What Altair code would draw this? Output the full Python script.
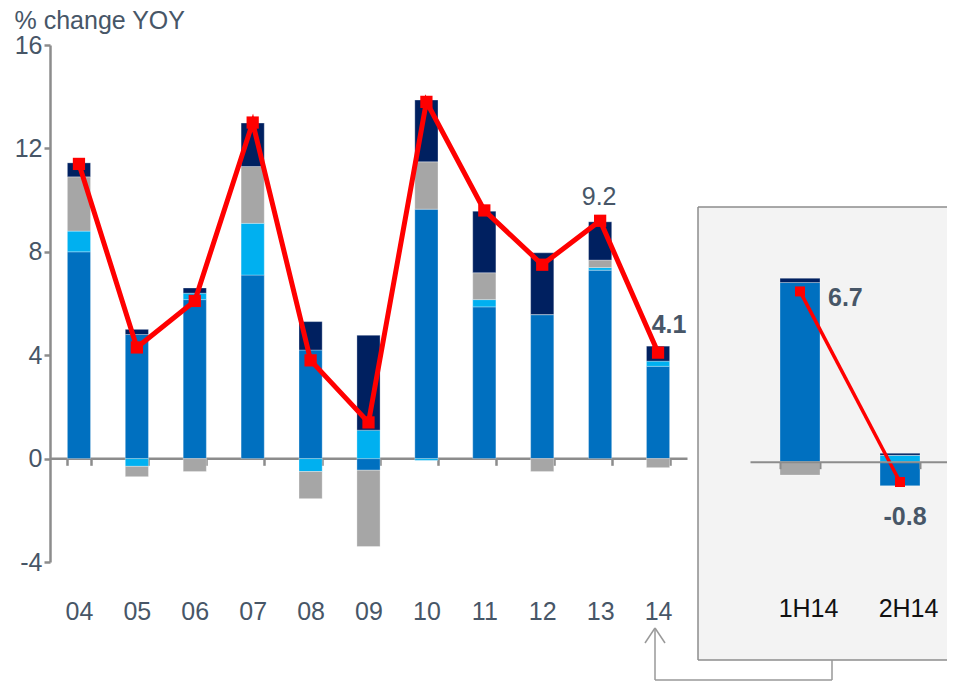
import altair as alt
import pandas as pd

# ---------------- data ----------------
years = ["04", "05", "06", "07", "08", "09", "10", "11", "12", "13", "14"]
core_blue = [8.0, 4.8, 6.15, 7.1, 4.2, -0.45, 9.65, 5.87, 5.57, 7.29, 3.57]
light_blue = [0.8, -0.3, 0.25, 2.0, -0.5, 1.1, -0.07, 0.28, 0.0, 0.1, 0.2]
grey = [2.1, -0.4, -0.5, 2.2, -1.05, -2.95, 1.83, 1.04, -0.5, 0.29, -0.35]
navy = [0.54, 0.2, 0.2, 1.68, 1.1, 3.67, 2.39, 2.38, 2.39, 1.48, 0.58]
total = [11.4, 4.3, 6.1, 13.0, 3.8, 1.4, 13.8, 9.6, 7.5, 9.2, 4.1]

halves = ["1H14", "2H14"]
h_core_blue = [7.05, -0.95]
h_light_blue = [-0.03, 0.25]
h_grey = [-0.5, 0.0]
h_navy = [0.17, 0.08]
h_total = [6.7, -0.8]

y_ticks = [-4, 0, 4, 8, 12, 16]

comp_names = ["core", "light", "grey", "navy"]
comp_colors = ["#0070C0", "#00B0F0", "#A6A6A6", "#002060"]

FONT = "Liberation Sans"
TXT = "#475667"
AX = "#8C8C8C"
RED = "#FF0000"


def long_df(cats, key, series):
    rows = []
    for i, c in enumerate(cats):
        for k, (name, vals) in enumerate(zip(comp_names, series)):
            rows.append({key: c, "comp": name, "ord": k, "v": vals[i]})
    return pd.DataFrame(rows)


main_bars_df = long_df(years, "year", [core_blue, light_blue, grey, navy])
main_line_df = pd.DataFrame({"year": years, "v": total})
main_line_df["lab"] = main_line_df["v"].map(lambda t: f"{t:.1f}")

panel_bars_df = long_df(halves, "half", [h_core_blue, h_light_blue, h_grey, h_navy])
panel_line_df = pd.DataFrame({"half": halves, "v": h_total})
panel_line_df["lab"] = panel_line_df["v"].map(lambda t: f"{t:.1f}")

color_enc = alt.Color("comp:N", scale=alt.Scale(domain=comp_names, range=comp_colors), legend=None)

# ---------------- main chart ----------------
x_main = alt.X(
    "year:N",
    scale=alt.Scale(domain=years, range=[0, 637], paddingInner=0.6, paddingOuter=0.3),
    axis=alt.Axis(orient="bottom", offset=-103.7, title=None, labelAngle=0, tickBand="extent",
                  domainColor=AX, domainWidth=2.5, tickColor=AX, tickWidth=2.5, tickSize=7,
                  labelPadding=154, labelBaseline="alphabetic", labelFont=FONT, labelFontSize=25,
                  labelColor=TXT, grid=False),
)
y_axis = alt.Axis(values=y_ticks, labelExpr="'' + datum.value",
                  title="% change YOY", titleAngle=0, titleAlign="left",
                  titleBaseline="alphabetic", titleX=-36, titleY=-17, titleFont=FONT,
                  titleFontSize=25, titleFontWeight="normal", titleColor=TXT,
                  domainColor=AX, domainWidth=2.5, tickColor=AX, tickWidth=2.5, tickSize=6,
                  labelPadding=2, labelFont=FONT, labelFontSize=25, labelColor=TXT, grid=False)
y_scale = alt.Scale(domain=[-4, 16], nice=False, zero=False)

main_bars = alt.Chart(main_bars_df).mark_bar(stroke="#FFFFFF", strokeWidth=0.6, strokeOpacity=0.5).encode(
    x=x_main,
    y=alt.Y("v:Q", scale=y_scale, axis=y_axis, stack="zero"),
    color=color_enc,
    order=alt.Order("ord:Q", sort="ascending"),
)
main_line = alt.Chart(main_line_df).mark_line(color=RED, strokeWidth=5).encode(
    x=x_main, y=alt.Y("v:Q", scale=y_scale, axis=y_axis)
)
main_pts = alt.Chart(main_line_df).mark_square(color=RED, size=150, opacity=1).encode(
    x=x_main, y=alt.Y("v:Q", scale=y_scale, axis=y_axis)
)
lab_13 = alt.Chart(main_line_df).transform_filter(alt.datum.year == "13").mark_text(
    font=FONT, fontSize=25, color=TXT, align="center", baseline="alphabetic", dx=-1, dy=-16
).encode(x=x_main, y=alt.Y("v:Q", scale=y_scale, axis=y_axis), text="lab:N")
lab_14 = alt.Chart(main_line_df).transform_filter(alt.datum.year == "14").mark_text(
    font=FONT, fontSize=25, fontWeight="bold", color=TXT, align="center", baseline="alphabetic",
    dx=11, dy=-20
).encode(x=x_main, y=alt.Y("v:Q", scale=y_scale, axis=y_axis), text="lab:N")

main = alt.layer(main_bars, main_line, main_pts, lab_13, lab_14)

# ---------------- side panel ----------------
x_panel = alt.X(
    "half:N",
    scale=alt.Scale(domain=halves, range=[700, 900], paddingInner=0.6, paddingOuter=0.3),
    axis=alt.Axis(orient="bottom", offset=-100.3, title=None, labelAngle=0, tickBand="extent",
                  domainColor=AX, domainWidth=2, tickColor=AX, tickWidth=2, tickSize=7,
                  labelPadding=148, labelOffset=8, labelBaseline="alphabetic", labelFont=FONT,
                  labelFontSize=25, labelColor="#111111", grid=False, zindex=1),
)
y_panel_scale = alt.Scale(domain=[-3.95, 16.4], nice=False, zero=False)

panel_bars = alt.Chart(panel_bars_df).mark_bar(stroke="#FFFFFF", strokeWidth=0.6, strokeOpacity=0.5).encode(
    x=x_panel,
    y=alt.Y("v:Q", scale=y_panel_scale, axis=None, stack="zero"),
    color=color_enc,
    order=alt.Order("ord:Q", sort="ascending"),
)
panel_line = alt.Chart(panel_line_df).mark_line(color=RED, strokeWidth=3.5).encode(
    x=x_panel, y=alt.Y("v:Q", scale=y_panel_scale, axis=None)
)
panel_pts = alt.Chart(panel_line_df).mark_square(color=RED, size=100, opacity=1).encode(
    x=x_panel, y=alt.Y("v:Q", scale=y_panel_scale, axis=None)
)
lab_1h = alt.Chart(panel_line_df).transform_filter(alt.datum.half == "1H14").mark_text(
    font=FONT, fontSize=25, fontWeight="bold", color=TXT, align="left", baseline="alphabetic",
    dx=28, dy=15
).encode(x=x_panel, y=alt.Y("v:Q", scale=y_panel_scale, axis=None), text="lab:N")
lab_2h = alt.Chart(panel_line_df).transform_filter(alt.datum.half == "2H14").mark_text(
    font=FONT, fontSize=25, fontWeight="bold", color=TXT, align="center", baseline="alphabetic",
    dx=5, dy=43
).encode(x=x_panel, y=alt.Y("v:Q", scale=y_panel_scale, axis=None), text="lab:N")

panel = alt.layer(panel_bars, panel_line, panel_pts, lab_1h, lab_2h)

# ---------------- decorations: panel box and connector arrow ----------------
one = alt.Data(values=[{"k": 1}])
box = alt.Chart(one).mark_rect(fill="#F3F3F3").encode(
    x=alt.value(648), x2=alt.value(1000), y=alt.value(162), y2=alt.value(615)
)


def seg(x1, y1, x2, y2, color="#999999", width=1.5):
    return alt.Chart(one).mark_rule(color=color, strokeWidth=width).encode(
        x=alt.value(x1), y=alt.value(y1), x2=alt.value(x2), y2=alt.value(y2)
    )


box_border = [
    seg(648, 162, 1000, 162, "#8C8C8C", 1.5),
    seg(648, 162, 648, 615, "#8C8C8C", 1.5),
    seg(648, 615, 1000, 615, "#8C8C8C", 1.5),
]

arrow = [
    seg(605, 583, 605, 635),
    seg(605, 635, 782, 635),
    seg(782, 635, 782, 615),
    seg(605, 583, 595, 598),
    seg(605, 583, 615, 598),
]

chart = (
    alt.layer(box, *box_border, main, panel, *arrow)
    .resolve_scale(x="independent", y="independent")
    .properties(
        width=897,
        height=517,
        autosize=alt.AutoSizeParams(type="none"),
        padding={"left": 42, "top": 37, "right": 0, "bottom": 124},
    )
    .configure_view(stroke="transparent")
)

chart.save("out.html", embed_options={"renderer": "svg", "actions": False})
